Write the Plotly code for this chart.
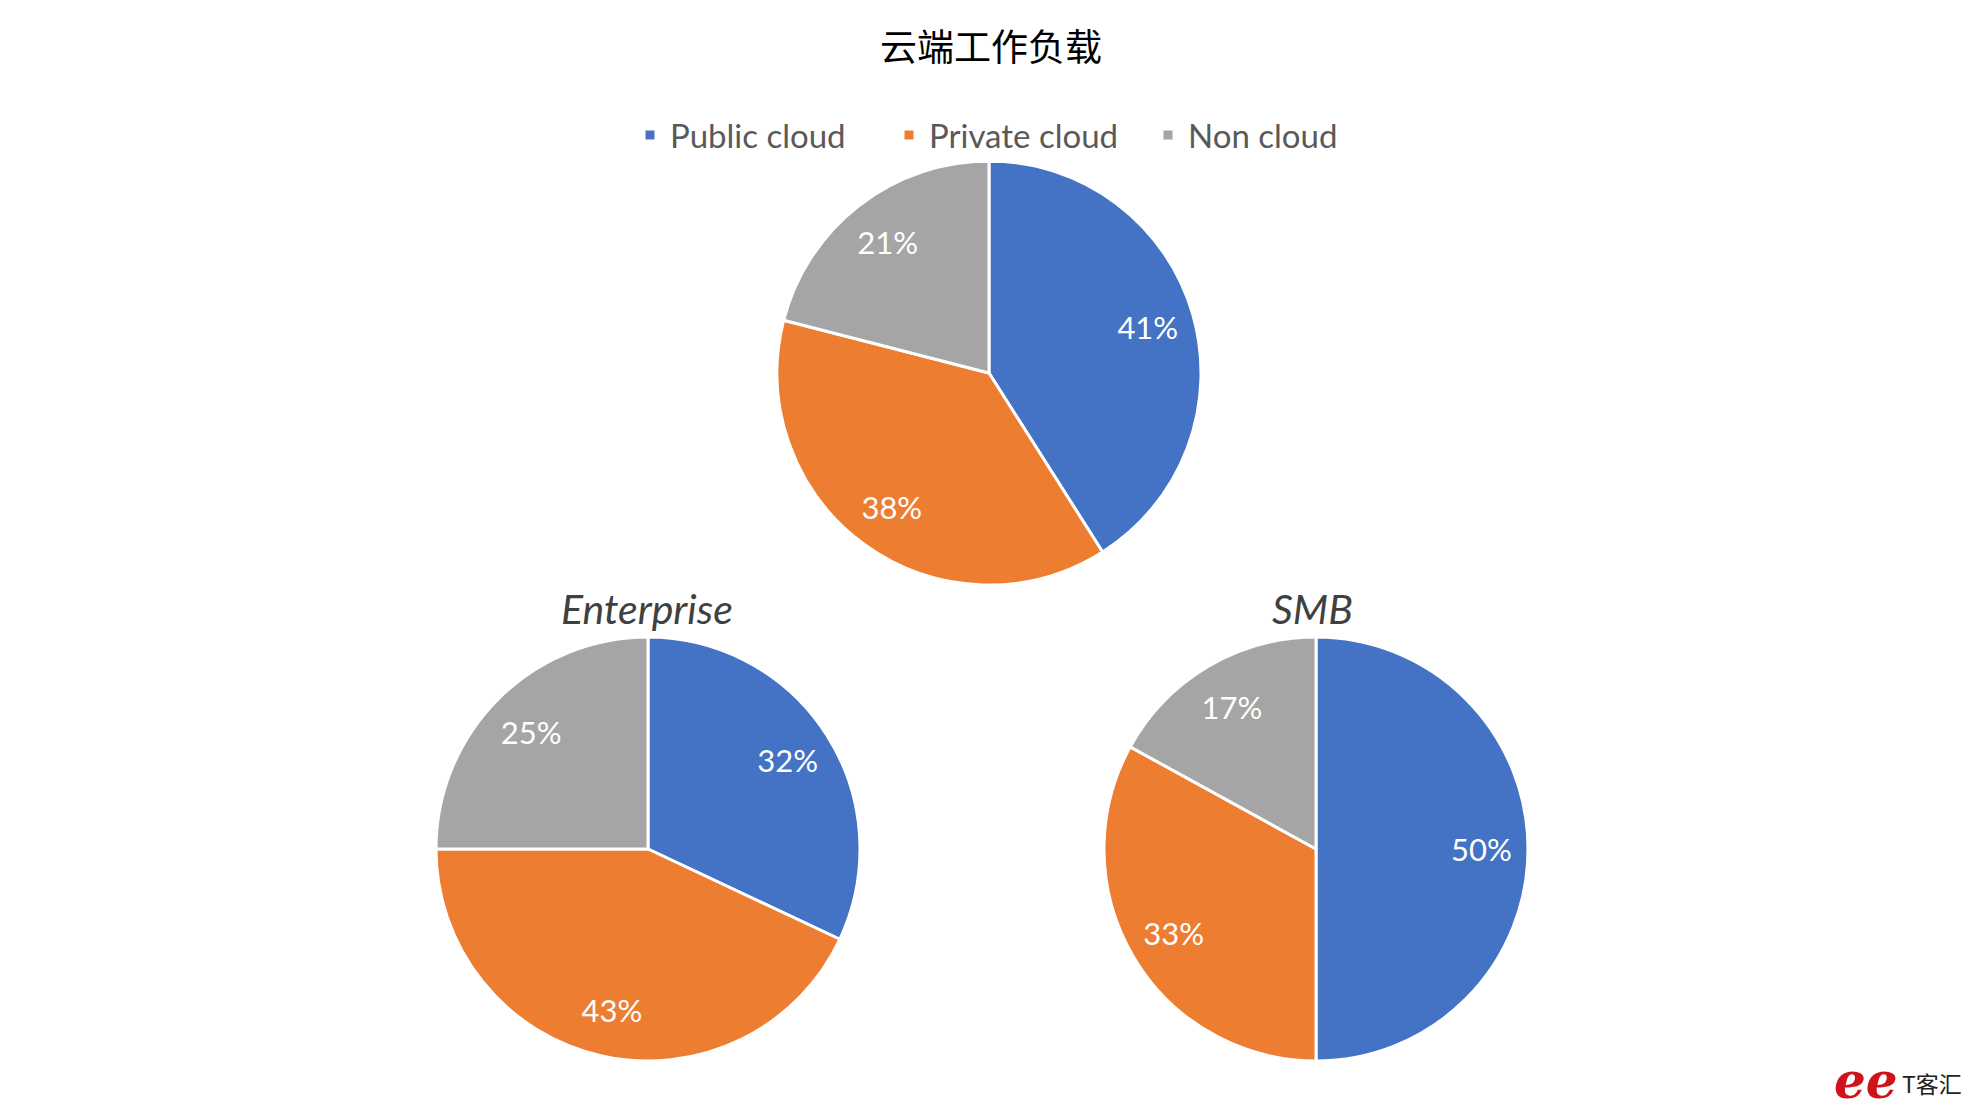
import plotly.graph_objects as go

categories = ["Public cloud", "Private cloud", "Non cloud"]
overall_values = [41, 38, 21]
enterprise_values = [32, 43, 25]
smb_values = [50, 33, 17]
subtitles = ["Enterprise", "SMB"]
title_text = "云端工作负载"
colors = ["#4472C4", "#ED7D31", "#A5A5A5"]

W, H = 1972, 1108
OFF = 8  # page body margin compensation

def px_x(x):
    return (x - OFF) / W

def px_y(y):
    return 1 - (y - OFF) / H

def dom(cx, cy, r):
    return dict(x=[px_x(cx - r), px_x(cx + r)], y=[px_y(cy + r), px_y(cy - r)])

R = 212
base = dict(labels=categories, sort=False, direction="clockwise", rotation=0)

fig = go.Figure()
for i, (vals, (cx, cy)) in enumerate([(overall_values, (989, 373)),
                                      (enterprise_values, (648, 849)),
                                      (smb_values, (1316, 849))]):
    d = dom(cx, cy, R)
    # filled pie
    fig.add_trace(go.Pie(values=vals, domain=d, showlegend=(i == 0), textinfo="none",
                         marker=dict(colors=colors, line=dict(color="white", width=3)),
                         hoverinfo="label+value", **base))
    # transparent ring carrying the percentage labels
    fig.add_trace(go.Pie(values=vals, domain=d, showlegend=False, hole=0.56,
                         marker=dict(colors=["rgba(0,0,0,0)"] * 3, line=dict(width=0)),
                         texttemplate="%{value}%", textposition="inside",
                         insidetextorientation="horizontal",
                         textfont=dict(family="Lato", size=31, color="white"),
                         hoverinfo="skip", **base))

for name, cx in zip(subtitles, [647, 1312]):
    fig.add_annotation(text=name, x=px_x(cx), y=px_y(608), xref="paper", yref="paper",
                       xanchor="center", yanchor="middle", showarrow=False,
                       font=dict(family="Lato", size=41, color="#404040", style="italic"))

# watermark
fig.add_annotation(text="<i><b>ee</b></i>", x=px_x(1866), y=px_y(1080), xref="paper", yref="paper",
                   xanchor="center", yanchor="middle", showarrow=False,
                   font=dict(family="DejaVu Serif", size=50, color="#D0121B"))
fig.add_annotation(text="T客汇", x=px_x(1932), y=px_y(1083), xref="paper", yref="paper",
                   xanchor="center", yanchor="middle", showarrow=False,
                   font=dict(family="Noto Sans CJK SC", size=23, color="#222222"))

fig.update_layout(
    width=W, height=H,
    margin=dict(l=0, r=0, t=0, b=0),
    paper_bgcolor="white",
    plot_bgcolor="white",
    title=dict(text=title_text, x=px_x(991), y=px_y(48), xanchor="center", yanchor="middle",
               font=dict(family="Noto Sans CJK SC", size=37, color="black")),
    legend=dict(orientation="h", x=px_x(630), y=px_y(135), xanchor="left", yanchor="middle",
                entrywidth=214, entrywidthmode="pixels",
                font=dict(family="Lato", size=33, color="#595959"), itemclick=False),
)

fig.write_html("out.html")
